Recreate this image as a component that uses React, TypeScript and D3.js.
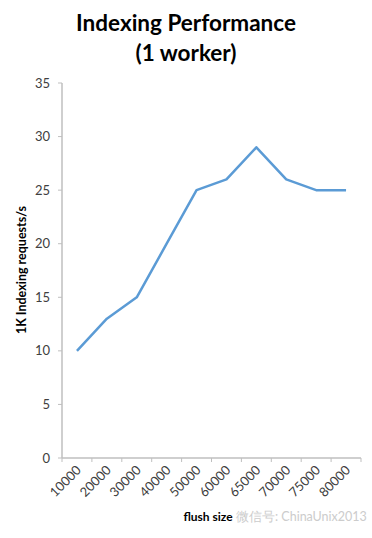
import React from "react";
import * as d3 from "d3";

const categories = ["10000", "20000", "30000", "40000", "50000", "60000", "65000", "70000", "75000", "80000"];
const values = [10, 13, 15, 20, 25, 26, 29, 26, 25, 25];
const yTicks = [0, 5, 10, 15, 20, 25, 30, 35];

const W = 372, H = 538;
const left = 62, right = 361, top = 83, bottom = 458;

export default function App() {
  const x = d3.scaleBand<string>().domain(categories).range([left, right]);
  const y = d3.scaleLinear().domain([0, 35]).range([bottom, top]);
  const line = d3.line<number>()
    .x((_, i) => (x(categories[i]) as number) + x.bandwidth() / 2)
    .y((d) => y(d));
  const font = "Lato, 'Open Sans', 'Liberation Sans', sans-serif";
  const boundaries = categories.map((c) => x(c) as number).concat([right]);
  return (
    <svg width={W} height={H} style={{ position: "absolute", left: 0, top: 0, background: "#fff" }} fontFamily={font}>
      <text x={186} y={31} textAnchor="middle" fontSize={22.5} fontWeight="bold" fill="#000">Indexing Performance</text>
      <text x={186} y={61} textAnchor="middle" fontSize={22.5} fontWeight="bold" fill="#000">(1 worker)</text>
      <line x1={left} x2={left} y1={top} y2={bottom} stroke="#bfbfbf" strokeWidth={1.5} />
      <line x1={left} x2={right} y1={bottom} y2={bottom} stroke="#bfbfbf" strokeWidth={1.5} />
      {yTicks.map((t) => (
        <g key={t}>
          <line x1={left - 4} x2={left} y1={y(t)} y2={y(t)} stroke="#bfbfbf" />
          <text x={50} y={y(t) + 4.5} textAnchor="end" fontSize={13} fill="#404040">{t}</text>
        </g>
      ))}
      {boundaries.map((b, i) => (
        <line key={i} x1={b} x2={b} y1={bottom} y2={bottom + 4} stroke="#bfbfbf" />
      ))}
      {categories.map((c) => {
        const cx = (x(c) as number) + x.bandwidth() / 2 + 5;
        const cy = bottom + 13;
        return (
          <text key={c} x={cx} y={cy} textAnchor="end" fontSize={13} fill="#404040"
            transform={`rotate(-45 ${cx} ${cy})`}>{c}</text>
        );
      })}
      <path d={line(values) || ""} fill="none" stroke="#5b9bd5" strokeWidth={2.5} strokeLinejoin="round" />
      <text transform="translate(26 270) rotate(-90)" textAnchor="middle" fontSize={12.5} fontWeight="bold" fill="#000">1K Indexing requests/s</text>
      <text x={208} y={521} textAnchor="middle" fontSize={12} fontWeight="bold" fill="#000">flush size</text>
      <text x={236} y={521} fontSize={12.5} fill="#cccccc">微信号: ChinaUnix2013</text>
    </svg>
  );
}
